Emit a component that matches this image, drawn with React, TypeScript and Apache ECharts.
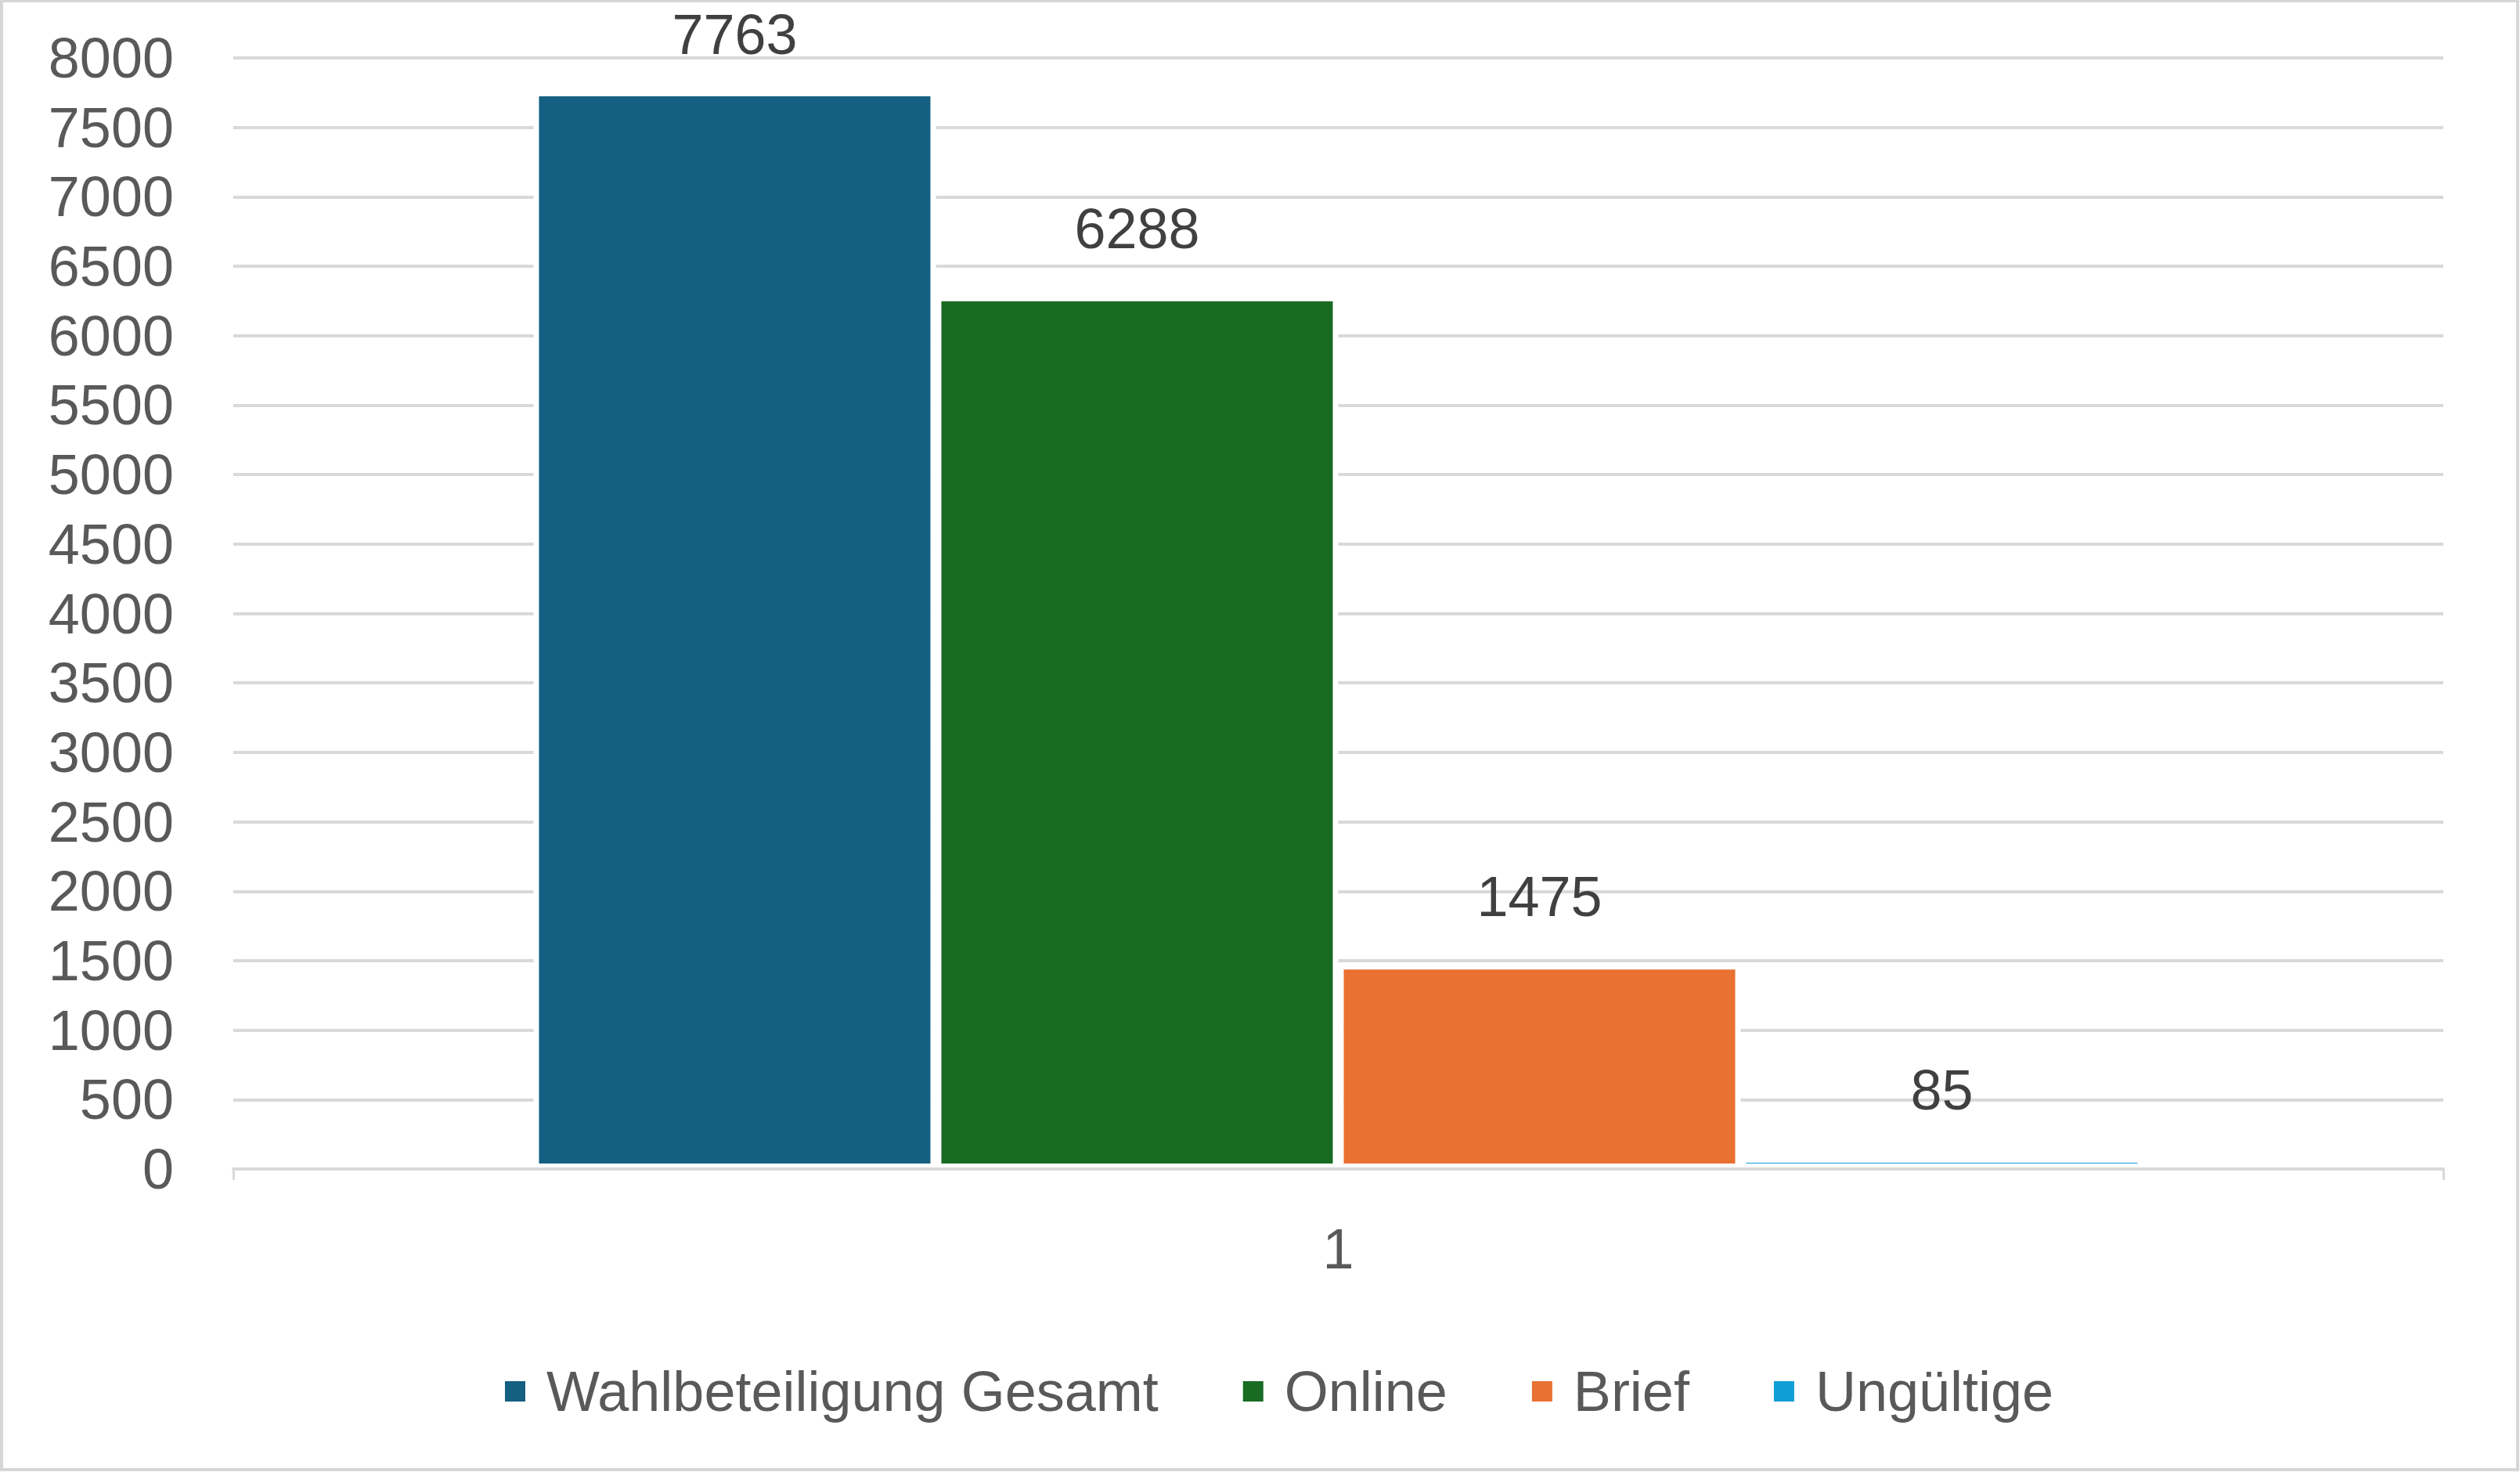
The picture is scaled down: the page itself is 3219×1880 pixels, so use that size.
import React, { useEffect, useRef } from "react";
import * as echarts from "echarts";

const categories = ["1"];
const seriesNames = ["Wahlbeteiligung Gesamt", "Online", "Brief", "Ungültige"];
const seriesValues = [[7763], [6288], [1475], [85]];
const seriesColors = ["#156082", "#196B24", "#E97132", "#0F9ED5"];
const labelDistances = [36, 50, 50, 50];
const yMin = 0;
const yMax = 8000;
const yInterval = 500;

const FONT = "'Liberation Sans', Arial, sans-serif";

export default function App() {
  const ref = useRef<HTMLDivElement>(null);
  useEffect(() => {
    if (!ref.current) return;
    const chart = echarts.init(ref.current, undefined, { renderer: "svg" });
    chart.setOption({
      animation: false,
      backgroundColor: "#ffffff",
      textStyle: { fontFamily: FONT },
      graphic: [
        {
          type: "rect",
          shape: { x: 2, y: 1, width: 3214, height: 1876 },
          style: { fill: "none", stroke: "#d6d6d6", lineWidth: 4 },
          silent: true,
          z: 100,
        },
      ],
      grid: { left: 298, right: 98, top: 74, bottom: 387, containLabel: false },
      legend: {
        left: 638,
        top: 1736,
        itemWidth: 28,
        itemHeight: 28,
        itemGap: 106,
        icon: "rect",
        textStyle: {
          fontFamily: FONT,
          fontSize: 72,
          color: "#595959",
          padding: [0, 0, 0, 21],
        },
        data: seriesNames,
      },
      xAxis: {
        type: "category",
        data: categories,
        z: 5,
        axisLine: { show: true, lineStyle: { color: "#d9d9d9", width: 4 } },
        axisTick: { show: true, length: 14, lineStyle: { color: "#d9d9d9", width: 3 } },
        axisLabel: { fontFamily: FONT, fontSize: 72, color: "#595959", margin: 66 },
      },
      yAxis: {
        type: "value",
        min: yMin,
        max: yMax,
        interval: yInterval,
        axisLine: { show: false },
        axisTick: { show: false },
        splitLine: { show: true, lineStyle: { color: "#d9d9d9", width: 4 } },
        axisLabel: {
          fontFamily: FONT,
          fontSize: 72,
          color: "#595959",
          margin: 76,
          formatter: (v: number) => String(v),
        },
      },
      series: seriesNames.map((name, i) => ({
        name,
        type: "bar",
        data: seriesValues[i],
        barWidth: 514,
        barGap: "0%",
        itemStyle: { color: seriesColors[i], borderColor: "#ffffff", borderWidth: 7 },
        label: {
          show: true,
          position: "top",
          distance: labelDistances[i],
          fontFamily: FONT,
          fontSize: 72,
          color: "#404040",
        },
      })),
    });
    return () => chart.dispose();
  }, []);
  return (
    <div
      ref={ref}
      style={{ position: "absolute", left: 0, top: 0, width: 3219, height: 1880 }}
    />
  );
}
